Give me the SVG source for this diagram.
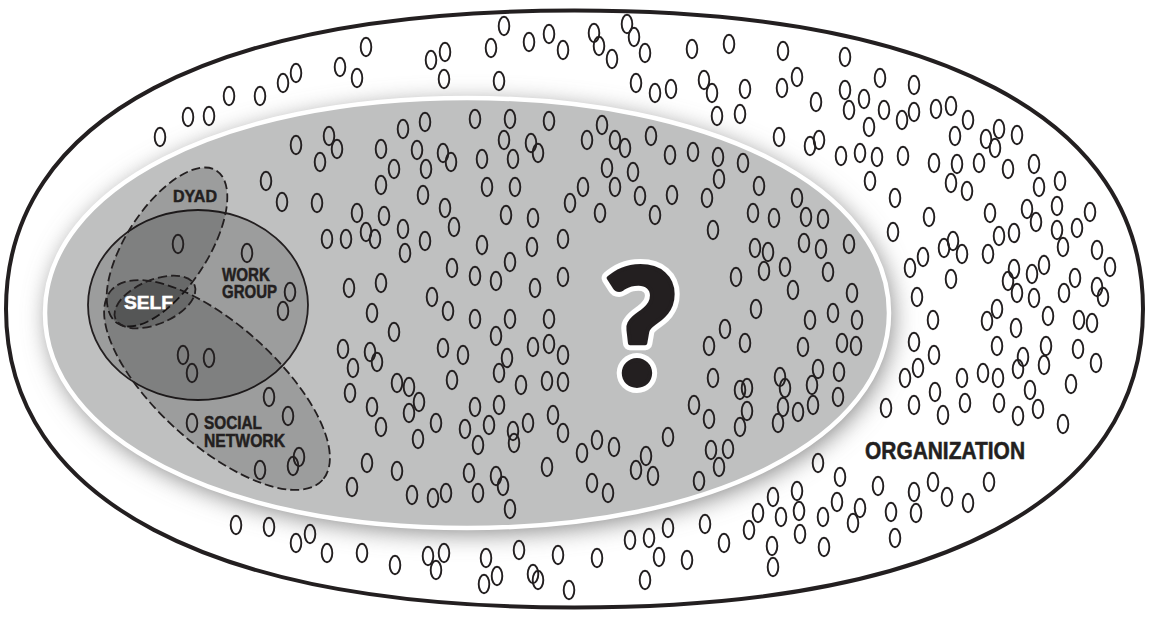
<svg xmlns="http://www.w3.org/2000/svg" xmlns:xlink="http://www.w3.org/1999/xlink" width="1149" height="617" viewBox="0 0 1149 617">
<style>
.lbl{font-family:"Liberation Sans",Arial,sans-serif;font-weight:bold;fill:#231f20;stroke:#231f20;stroke-width:0.5}
.venn{fill:#000;fill-opacity:0.18;stroke:#231f20;stroke-width:1.8}
.dash{stroke-dasharray:9 4}
#people use{fill:none;stroke:#231f20;stroke-width:1.9}
</style>
<defs>
<ellipse id="pp" cx="0" cy="0" rx="5.3" ry="9.3"/>
<path id="outerShape" d="M1143,309 C1143,500 938.3,607.5 574.5,607.5 C210.7,607.5 6,500 6,309 C6,118 210.7,10.5 574.5,10.5 C938.3,10.5 1143,118 1143,309 Z"/>
<path id="innerShape" d="M889,313 C889,437.7 711.8,528 467,528 C222.2,528 45,437.7 45,313 C45,188.3 222.2,98 467,98 C711.8,98 889,188.3 889,313 Z"/>
<clipPath id="clipOuter"><use xlink:href="#outerShape"/></clipPath>
<filter id="blur" x="-20%" y="-20%" width="140%" height="140%"><feGaussianBlur stdDeviation="12"/></filter>
</defs>

<g id="organization">
<use xlink:href="#outerShape" fill="#fff" stroke="none"/>
<g clip-path="url(#clipOuter)">
<use xlink:href="#innerShape" fill="#858585" filter="url(#blur)" transform="translate(3,5)"/>
</g>
<use xlink:href="#outerShape" fill="none" stroke="#231f20" stroke-width="4"/>
</g>

<g id="unknown-area">
<use xlink:href="#innerShape" fill="#bfc0c0" stroke="#fff" stroke-width="4.5"/>
</g>

<g id="work-group"><ellipse class="venn" cx="198" cy="305" rx="110" ry="95"/></g>
<g id="dyad"><ellipse class="venn dash" cx="0" cy="0" rx="91" ry="41" transform="translate(167,247) rotate(-57)"/></g>
<g id="social-network"><ellipse class="venn dash" cx="0" cy="0" rx="142" ry="60" transform="translate(217,385) rotate(42)"/></g>
<g id="self"><ellipse class="venn dash" cx="0" cy="0" rx="43" ry="22" transform="translate(155,302) rotate(-23)"/></g>

<g id="connectors"></g>

<g id="people">
<use href="#pp" x="160" y="137"/><use href="#pp" x="188" y="117"/><use href="#pp" x="209" y="116"/><use href="#pp" x="229" y="96"/><use href="#pp" x="260" y="96"/><use href="#pp" x="283" y="83"/><use href="#pp" x="296" y="73"/><use href="#pp" x="340" y="67"/><use href="#pp" x="357" y="78"/><use href="#pp" x="366" y="47"/><use href="#pp" x="431" y="60"/><use href="#pp" x="445" y="52"/><use href="#pp" x="444" y="79"/>
<use href="#pp" x="491" y="48"/><use href="#pp" x="504" y="26"/><use href="#pp" x="529" y="42"/><use href="#pp" x="549" y="34"/><use href="#pp" x="563" y="50"/><use href="#pp" x="594" y="33"/><use href="#pp" x="599" y="46"/><use href="#pp" x="612" y="59"/><use href="#pp" x="627" y="24"/><use href="#pp" x="634" y="37"/><use href="#pp" x="645" y="53"/><use href="#pp" x="692" y="49"/><use href="#pp" x="729" y="44"/><use href="#pp" x="783" y="51"/>
<use href="#pp" x="499" y="81"/><use href="#pp" x="636" y="83"/><use href="#pp" x="655" y="93"/><use href="#pp" x="671" y="89"/><use href="#pp" x="704" y="80"/><use href="#pp" x="712" y="93"/><use href="#pp" x="745" y="89"/><use href="#pp" x="717" y="116"/><use href="#pp" x="740" y="114"/><use href="#pp" x="782" y="88"/><use href="#pp" x="797" y="77"/><use href="#pp" x="779" y="137"/>
<use href="#pp" x="845" y="57"/><use href="#pp" x="880" y="78"/><use href="#pp" x="914" y="85"/><use href="#pp" x="816" y="102"/><use href="#pp" x="845" y="90"/><use href="#pp" x="864" y="99"/><use href="#pp" x="849" y="110"/><use href="#pp" x="884" y="110"/><use href="#pp" x="902" y="120"/><use href="#pp" x="914" y="112"/><use href="#pp" x="936" y="109"/><use href="#pp" x="951" y="106"/><use href="#pp" x="968" y="120"/><use href="#pp" x="869" y="127"/><use href="#pp" x="810" y="146"/><use href="#pp" x="819" y="140"/><use href="#pp" x="841" y="156"/><use href="#pp" x="860" y="153"/><use href="#pp" x="877" y="157"/><use href="#pp" x="903" y="156"/><use href="#pp" x="955" y="136"/><use href="#pp" x="986" y="139"/><use href="#pp" x="999" y="129"/><use href="#pp" x="995" y="148"/><use href="#pp" x="1017" y="135"/><use href="#pp" x="934" y="163"/><use href="#pp" x="957" y="164"/><use href="#pp" x="979" y="163"/><use href="#pp" x="951" y="183"/><use href="#pp" x="967" y="191"/><use href="#pp" x="1008" y="169"/><use href="#pp" x="1034" y="164"/><use href="#pp" x="1039" y="187"/><use href="#pp" x="1060" y="181"/><use href="#pp" x="870" y="181"/><use href="#pp" x="895" y="198"/><use href="#pp" x="990" y="213"/><use href="#pp" x="1027" y="209"/><use href="#pp" x="1036" y="222"/><use href="#pp" x="1057" y="206"/><use href="#pp" x="1090" y="212"/><use href="#pp" x="929" y="217"/><use href="#pp" x="893" y="232"/><use href="#pp" x="999" y="236"/><use href="#pp" x="1014" y="233"/><use href="#pp" x="1057" y="230"/><use href="#pp" x="1077" y="228"/><use href="#pp" x="1063" y="247"/><use href="#pp" x="944" y="248"/><use href="#pp" x="953" y="241"/><use href="#pp" x="962" y="254"/><use href="#pp" x="988" y="254"/><use href="#pp" x="923" y="257"/><use href="#pp" x="910" y="268"/><use href="#pp" x="1097" y="250"/><use href="#pp" x="1110" y="267"/><use href="#pp" x="951" y="279"/><use href="#pp" x="1014" y="269"/><use href="#pp" x="1008" y="281"/><use href="#pp" x="1032" y="274"/><use href="#pp" x="1044" y="265"/><use href="#pp" x="1075" y="278"/><use href="#pp" x="1064" y="293"/><use href="#pp" x="1017" y="293"/><use href="#pp" x="1034" y="298"/><use href="#pp" x="1097" y="287"/><use href="#pp" x="1103" y="297"/><use href="#pp" x="917" y="297"/><use href="#pp" x="997" y="309"/><use href="#pp" x="933" y="320"/><use href="#pp" x="987" y="321"/><use href="#pp" x="1048" y="316"/><use href="#pp" x="1079" y="320"/><use href="#pp" x="1092" y="323"/>
<use href="#pp" x="1016" y="328"/><use href="#pp" x="914" y="342"/><use href="#pp" x="934" y="355"/><use href="#pp" x="918" y="368"/><use href="#pp" x="905" y="378"/><use href="#pp" x="935" y="392"/><use href="#pp" x="914" y="405"/><use href="#pp" x="943" y="415"/><use href="#pp" x="886" y="408"/><use href="#pp" x="962" y="378"/><use href="#pp" x="965" y="403"/><use href="#pp" x="983" y="373"/><use href="#pp" x="998" y="378"/><use href="#pp" x="997" y="346"/><use href="#pp" x="1023" y="357"/><use href="#pp" x="1018" y="369"/><use href="#pp" x="999" y="403"/><use href="#pp" x="1030" y="390"/><use href="#pp" x="1018" y="416"/><use href="#pp" x="1038" y="409"/><use href="#pp" x="1046" y="346"/><use href="#pp" x="1044" y="365"/><use href="#pp" x="1078" y="349"/><use href="#pp" x="1096" y="363"/><use href="#pp" x="1071" y="384"/><use href="#pp" x="1063" y="424"/>
<use href="#pp" x="818" y="463"/><use href="#pp" x="840" y="477"/><use href="#pp" x="797" y="491"/><use href="#pp" x="799" y="511"/><use href="#pp" x="800" y="534"/><use href="#pp" x="837" y="502"/><use href="#pp" x="823" y="517"/><use href="#pp" x="860" y="508"/><use href="#pp" x="853" y="523"/><use href="#pp" x="824" y="547"/><use href="#pp" x="878" y="486"/><use href="#pp" x="891" y="512"/><use href="#pp" x="895" y="538"/><use href="#pp" x="914" y="492"/><use href="#pp" x="916" y="513"/><use href="#pp" x="933" y="482"/><use href="#pp" x="947" y="497"/><use href="#pp" x="968" y="503"/><use href="#pp" x="989" y="482"/>
<use href="#pp" x="486" y="558"/><use href="#pp" x="497" y="576"/><use href="#pp" x="484" y="584"/><use href="#pp" x="519" y="550"/><use href="#pp" x="533" y="574"/><use href="#pp" x="538" y="580"/><use href="#pp" x="558" y="555"/><use href="#pp" x="569" y="590"/><use href="#pp" x="597" y="558"/><use href="#pp" x="630" y="540"/><use href="#pp" x="649" y="538"/><use href="#pp" x="668" y="528"/><use href="#pp" x="659" y="557"/><use href="#pp" x="645" y="580"/><use href="#pp" x="687" y="560"/><use href="#pp" x="705" y="524"/><use href="#pp" x="724" y="543"/><use href="#pp" x="749" y="530"/><use href="#pp" x="758" y="513"/><use href="#pp" x="773" y="497"/><use href="#pp" x="781" y="517"/><use href="#pp" x="772" y="546"/><use href="#pp" x="773" y="567"/>
<use href="#pp" x="236" y="525"/><use href="#pp" x="269" y="527"/><use href="#pp" x="296" y="543"/><use href="#pp" x="310" y="534"/><use href="#pp" x="327" y="553"/><use href="#pp" x="362" y="553"/><use href="#pp" x="395" y="565"/><use href="#pp" x="428" y="556"/><use href="#pp" x="444" y="553"/><use href="#pp" x="436" y="570"/>
<use href="#pp" x="296" y="145"/><use href="#pp" x="329" y="136"/><use href="#pp" x="337" y="149"/><use href="#pp" x="320" y="162"/><use href="#pp" x="266" y="181"/><use href="#pp" x="282" y="202"/><use href="#pp" x="317" y="203"/><use href="#pp" x="381" y="149"/><use href="#pp" x="403" y="129"/><use href="#pp" x="425" y="122"/><use href="#pp" x="417" y="150"/><use href="#pp" x="443" y="153"/><use href="#pp" x="451" y="162"/><use href="#pp" x="394" y="169"/><use href="#pp" x="426" y="169"/><use href="#pp" x="381" y="185"/><use href="#pp" x="423" y="195"/><use href="#pp" x="445" y="208"/><use href="#pp" x="454" y="227"/><use href="#pp" x="357" y="213"/><use href="#pp" x="384" y="216"/><use href="#pp" x="327" y="239"/><use href="#pp" x="346" y="239"/><use href="#pp" x="366" y="232"/><use href="#pp" x="375" y="239"/><use href="#pp" x="403" y="229"/><use href="#pp" x="405" y="253"/><use href="#pp" x="425" y="241"/><use href="#pp" x="452" y="268"/><use href="#pp" x="349" y="288"/><use href="#pp" x="381" y="283"/><use href="#pp" x="432" y="297"/><use href="#pp" x="448" y="311"/><use href="#pp" x="372" y="313"/>
<use href="#pp" x="475" y="119"/><use href="#pp" x="510" y="119"/><use href="#pp" x="549" y="121"/><use href="#pp" x="504" y="140"/><use href="#pp" x="531" y="143"/><use href="#pp" x="538" y="153"/><use href="#pp" x="482" y="159"/><use href="#pp" x="513" y="159"/><use href="#pp" x="487" y="187"/><use href="#pp" x="515" y="187"/><use href="#pp" x="506" y="215"/><use href="#pp" x="533" y="218"/><use href="#pp" x="482" y="245"/><use href="#pp" x="532" y="247"/><use href="#pp" x="510" y="262"/><use href="#pp" x="475" y="276"/><use href="#pp" x="496" y="281"/><use href="#pp" x="535" y="288"/><use href="#pp" x="563" y="239"/><use href="#pp" x="563" y="277"/><use href="#pp" x="602" y="125"/><use href="#pp" x="587" y="140"/><use href="#pp" x="615" y="140"/><use href="#pp" x="625" y="148"/><use href="#pp" x="651" y="136"/><use href="#pp" x="607" y="168"/><use href="#pp" x="633" y="172"/><use href="#pp" x="583" y="187"/><use href="#pp" x="615" y="187"/><use href="#pp" x="570" y="203"/><use href="#pp" x="640" y="196"/><use href="#pp" x="600" y="213"/><use href="#pp" x="655" y="215"/><use href="#pp" x="672" y="195"/><use href="#pp" x="670" y="155"/><use href="#pp" x="693" y="152"/><use href="#pp" x="718" y="157"/><use href="#pp" x="719" y="179"/><use href="#pp" x="743" y="163"/><use href="#pp" x="707" y="198"/><use href="#pp" x="713" y="230"/><use href="#pp" x="759" y="186"/><use href="#pp" x="753" y="213"/><use href="#pp" x="774" y="218"/><use href="#pp" x="797" y="198"/><use href="#pp" x="755" y="248"/><use href="#pp" x="768" y="252"/><use href="#pp" x="764" y="271"/><use href="#pp" x="785" y="267"/><use href="#pp" x="736" y="277"/><use href="#pp" x="793" y="290"/><use href="#pp" x="756" y="309"/>
<use href="#pp" x="475" y="319"/><use href="#pp" x="510" y="319"/><use href="#pp" x="549" y="319"/>
<use href="#pp" x="806" y="217"/><use href="#pp" x="823" y="219"/><use href="#pp" x="804" y="243"/><use href="#pp" x="821" y="249"/><use href="#pp" x="849" y="244"/><use href="#pp" x="828" y="272"/><use href="#pp" x="852" y="293"/><use href="#pp" x="833" y="313"/><use href="#pp" x="810" y="320"/><use href="#pp" x="857" y="320"/>
<use href="#pp" x="803" y="347"/><use href="#pp" x="842" y="343"/><use href="#pp" x="856" y="346"/><use href="#pp" x="818" y="369"/><use href="#pp" x="839" y="372"/><use href="#pp" x="812" y="385"/><use href="#pp" x="838" y="397"/><use href="#pp" x="813" y="405"/><use href="#pp" x="798" y="412"/>
<use href="#pp" x="463" y="355"/><use href="#pp" x="496" y="336"/><use href="#pp" x="507" y="358"/><use href="#pp" x="499" y="373"/><use href="#pp" x="533" y="347"/><use href="#pp" x="549" y="344"/><use href="#pp" x="563" y="355"/><use href="#pp" x="521" y="385"/><use href="#pp" x="547" y="381"/><use href="#pp" x="563" y="382"/><use href="#pp" x="475" y="407"/><use href="#pp" x="499" y="405"/><use href="#pp" x="465" y="429"/><use href="#pp" x="489" y="425"/><use href="#pp" x="513" y="431"/><use href="#pp" x="514" y="443"/><use href="#pp" x="528" y="423"/><use href="#pp" x="478" y="445"/><use href="#pp" x="553" y="415"/><use href="#pp" x="563" y="433"/><use href="#pp" x="469" y="473"/><use href="#pp" x="478" y="493"/><use href="#pp" x="496" y="476"/><use href="#pp" x="503" y="486"/><use href="#pp" x="510" y="509"/><use href="#pp" x="547" y="467"/><use href="#pp" x="582" y="453"/><use href="#pp" x="597" y="440"/><use href="#pp" x="614" y="447"/><use href="#pp" x="592" y="483"/><use href="#pp" x="608" y="493"/><use href="#pp" x="636" y="470"/><use href="#pp" x="646" y="456"/><use href="#pp" x="653" y="476"/><use href="#pp" x="668" y="437"/><use href="#pp" x="699" y="481"/><use href="#pp" x="694" y="405"/><use href="#pp" x="709" y="419"/><use href="#pp" x="709" y="346"/><use href="#pp" x="725" y="329"/><use href="#pp" x="745" y="343"/><use href="#pp" x="713" y="378"/><use href="#pp" x="740" y="390"/><use href="#pp" x="747" y="388"/><use href="#pp" x="747" y="411"/><use href="#pp" x="740" y="427"/><use href="#pp" x="711" y="450"/><use href="#pp" x="728" y="449"/><use href="#pp" x="719" y="467"/><use href="#pp" x="780" y="377"/><use href="#pp" x="785" y="388"/><use href="#pp" x="783" y="407"/><use href="#pp" x="778" y="423"/>
<use href="#pp" x="394" y="332"/><use href="#pp" x="343" y="349"/><use href="#pp" x="353" y="368"/><use href="#pp" x="370" y="352"/><use href="#pp" x="377" y="362"/><use href="#pp" x="350" y="393"/><use href="#pp" x="372" y="407"/><use href="#pp" x="381" y="427"/><use href="#pp" x="397" y="383"/><use href="#pp" x="409" y="387"/><use href="#pp" x="419" y="402"/><use href="#pp" x="409" y="413"/><use href="#pp" x="418" y="439"/><use href="#pp" x="436" y="423"/><use href="#pp" x="443" y="348"/><use href="#pp" x="452" y="380"/><use href="#pp" x="367" y="463"/><use href="#pp" x="397" y="471"/><use href="#pp" x="352" y="487"/><use href="#pp" x="412" y="495"/><use href="#pp" x="433" y="498"/><use href="#pp" x="446" y="493"/>
<use href="#pp" x="178" y="244"/><use href="#pp" x="247" y="253"/><use href="#pp" x="290" y="292"/><use href="#pp" x="283" y="311"/><use href="#pp" x="183" y="355"/><use href="#pp" x="209" y="358"/><use href="#pp" x="192" y="373"/><use href="#pp" x="269" y="397"/><use href="#pp" x="288" y="416"/><use href="#pp" x="192" y="423"/><use href="#pp" x="299" y="457"/><use href="#pp" x="293" y="466"/><use href="#pp" x="260" y="470"/>
</g>

<g id="labels">
<text class="lbl" x="173" y="202" font-size="17" textLength="44" lengthAdjust="spacingAndGlyphs">DYAD</text>
<text class="lbl" x="222" y="281" font-size="17.5" textLength="48" lengthAdjust="spacingAndGlyphs">WORK</text>
<text class="lbl" x="222" y="298" font-size="17.5" textLength="55" lengthAdjust="spacingAndGlyphs">GROUP</text>
<text class="lbl" x="124" y="309" font-size="18.5" textLength="49" lengthAdjust="spacingAndGlyphs" style="fill:#fff;stroke:#fff">SELF</text>
<text class="lbl" x="204" y="429" font-size="17.5" textLength="58" lengthAdjust="spacingAndGlyphs">SOCIAL</text>
<text class="lbl" x="204" y="447" font-size="17.5" textLength="81" lengthAdjust="spacingAndGlyphs">NETWORK</text>
<text class="lbl" x="865" y="459" font-size="23" textLength="160" lengthAdjust="spacingAndGlyphs">ORGANIZATION</text>
</g>

<g id="question" font-family="Lato,'Open Sans','Liberation Sans',sans-serif" font-weight="900" font-size="162" text-anchor="middle">
<text x="641" y="385" fill="#fff" stroke="#fff" stroke-width="14" stroke-linejoin="round">?</text>
<text x="641" y="385" fill="#231f20" stroke="#231f20" stroke-width="4" stroke-linejoin="round">?</text>
</g>
</svg>
